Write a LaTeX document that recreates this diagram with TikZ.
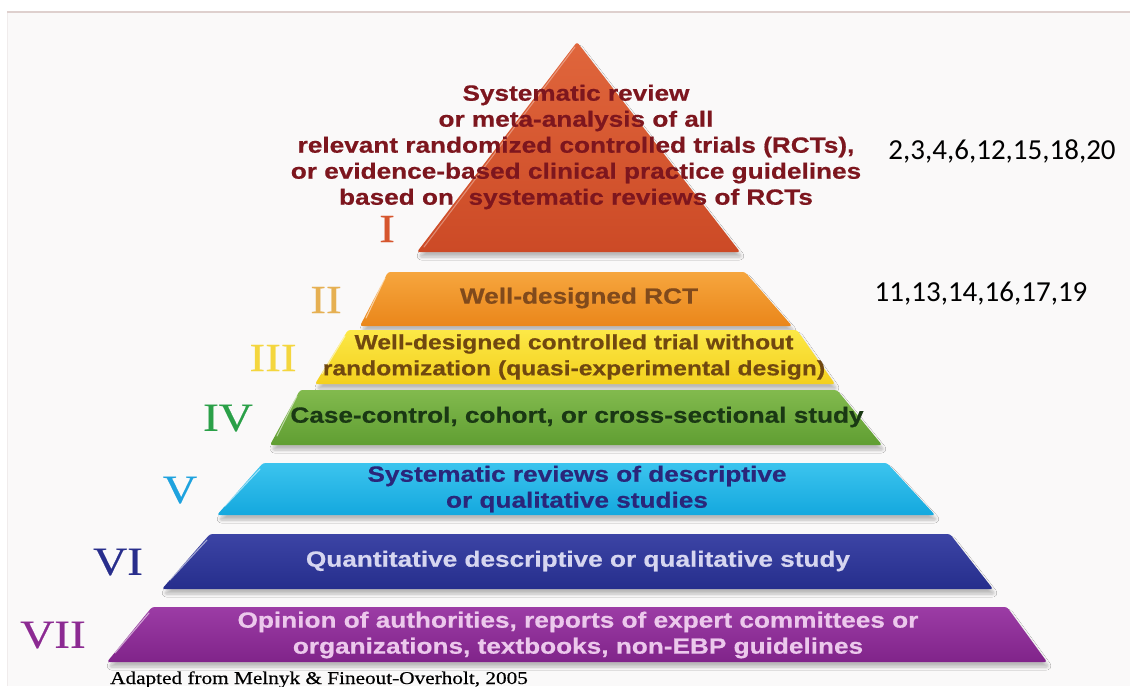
\documentclass[tikz,border=0pt]{standalone}
\usepackage{fontspec}
\usetikzlibrary{shadows.blur}
\newfontfamily\tierfont[FakeStretch=1.19, FakeBold=0.6]{Liberation Sans Bold}
\newfontfamily\romanfont[FakeStretch=1.18, FakeBold=0.5]{Liberation Serif}
\newfontfamily\refsfont{Carlito}

% tier fills
\definecolor{triA}{RGB}{224,102,60}
\definecolor{triB}{RGB}{204,74,38}
\definecolor{orA}{RGB}{246,166,62}
\definecolor{orB}{RGB}{234,134,26}
\definecolor{yeA}{RGB}{252,232,70}
\definecolor{yeB}{RGB}{244,208,30}
\definecolor{grA}{RGB}{130,186,78}
\definecolor{grB}{RGB}{96,158,50}
\definecolor{cyA}{RGB}{60,196,238}
\definecolor{cyB}{RGB}{20,168,222}
\definecolor{blA}{RGB}{60,68,165}
\definecolor{blB}{RGB}{38,46,140}
\definecolor{puA}{RGB}{156,60,165}
\definecolor{puB}{RGB}{128,36,138}
% text colours
\definecolor{triT}{RGB}{125,22,30}
\definecolor{orT}{RGB}{128,74,28}
\definecolor{yeT}{RGB}{112,72,16}
\definecolor{grT}{RGB}{26,56,20}
\definecolor{cyT}{RGB}{42,38,122}
\definecolor{blT}{RGB}{214,214,240}
\definecolor{puT}{RGB}{236,200,236}
% level numerals
\definecolor{lvI}{RGB}{214,86,46}
\definecolor{lvII}{RGB}{230,176,82}
\definecolor{lvIII}{RGB}{244,214,62}
\definecolor{lvIV}{RGB}{42,160,72}
\definecolor{lvV}{RGB}{30,162,222}
\definecolor{lvVI}{RGB}{40,46,140}
\definecolor{lvVII}{RGB}{140,42,146}
\definecolor{frameline}{RGB}{222,208,206}
\definecolor{frameside}{RGB}{240,236,236}

\tikzset{
  tierbox/.style={rounded corners=2.5pt,
    blur shadow={shadow xshift=2pt, shadow yshift=-5pt, shadow opacity=25,
                 shadow blur steps=6, shadow blur radius=3pt}},
  shine/.style={white, opacity=0.55, line width=1.1pt, line cap=round},
  tiertext/.style={font=\tierfont\fontsize{22}{26}\selectfont,
                   align=center, inner sep=0pt},
  level/.style={font=\romanfont\fontsize{40}{42}\selectfont, inner sep=0pt},
  refs/.style={font=\refsfont\fontsize{29}{32}\selectfont, inner sep=0pt, text=black},
}

\begin{document}
\begin{tikzpicture}[x=1pt,y=-1pt]
\useasboundingbox (0,0) rectangle (1130,686);
\fill[white] (0,0) rectangle (1130,686);
\fill[frameside!30] (7,12) rectangle (1130,686);
\draw[frameside, line width=0.8pt] (7,12) -- (7,686);
\draw[frameline, line width=1.2pt] (7,12) -- (1130,12);

% level I: apex triangle
\path[tierbox, top color=triA, bottom color=triB] (577,42) -- (740,252) -- (417,252) -- cycle;
\draw[shine, opacity=0.35] (575,47) -- (424,247);

% levels II to VII
\path[tierbox, top color=orA, bottom color=orB]
  (388,272) -- (745,272) -- (792,326) -- (360,326) -- cycle;
\draw[shine] (385,278) -- (366,318);
\path[tierbox, top color=yeA, bottom color=yeB]
  (348,330) -- (797,330) -- (835,384) -- (315,384) -- cycle;
\draw[shine] (345,336) -- (322,374);
\path[tierbox, top color=grA, bottom color=grB]
  (300,390) -- (837,390) -- (882,445) -- (270,445) -- cycle;
\draw[shine] (297,396) -- (277,436);
\path[tierbox, top color=cyA, bottom color=cyB]
  (263,463) -- (887,463) -- (935,515) -- (217,515) -- cycle;
\draw[shine] (260,469) -- (225,506);
\path[tierbox, top color=blA, bottom color=blB]
  (210,534) -- (950,534) -- (993,589) -- (162,589) -- cycle;
\draw[shine] (207,540) -- (170,580);
\path[tierbox, top color=puA, bottom color=puB]
  (152,607) -- (1007,607) -- (1047,662) -- (107,662) -- cycle;
\draw[shine] (149,613) -- (115,653);

% tier captions
\node[tiertext, text=triT] (capI) at (576,147)
  {Systematic review\\or meta-analysis of all\\relevant randomized controlled trials (RCTs),\\or evidence-based clinical practice guidelines\\based on~ systematic reviews of RCTs};
\node[tiertext, text=orT] (capII) at (579,298) {Well-designed RCT};
\node[tiertext, text=yeT, font=\tierfont\fontsize{20.7}{26}\selectfont] (capIII) at (574,357)
  {Well-designed controlled trial without\\randomization (quasi-experimental design)};
\node[tiertext, text=grT] (capIV) at (577,417) {Case-control, cohort, or cross-sectional study};
\node[tiertext, text=cyT] (capV) at (577,489) {Systematic reviews of descriptive\\or qualitative studies};
\node[tiertext, text=blT] (capVI) at (578,561) {Quantitative descriptive or qualitative study};
\node[tiertext, text=puT] (capVII) at (578,635)
  {Opinion of authorities, reports of expert committees or\\organizations, textbooks, non-EBP guidelines};

% level numerals
\node[level, text=lvI]   (lvlI)   at (387,229) {I};
\node[level, text=lvII]  (lvlII)  at (326,300) {II};
\node[level, text=lvIII] (lvlIII) at (273,358) {III};
\node[level, text=lvIV]  (lvlIV)  at (228,418) {IV};
\node[level, text=lvV]   (lvlV)   at (180,490) {V};
\node[level, text=lvVI]  (lvlVI)  at (118,562) {VI};
\node[level, text=lvVII] (lvlVII) at (53,635)  {VII};

% study references
\node[refs] (refsI)  at (1002,151) {2,3,4,6,12,15,18,20};
\node[refs] (refsII) at (981,294)  {11,13,14,16,17,19};

% source line
\node[font=\romanfont\fontsize{18}{20}\selectfont, anchor=base west, inner sep=0pt] (source)
  at (110,684) {Adapted from Melnyk \& Fineout-Overholt, 2005};
\end{tikzpicture}
\end{document}
